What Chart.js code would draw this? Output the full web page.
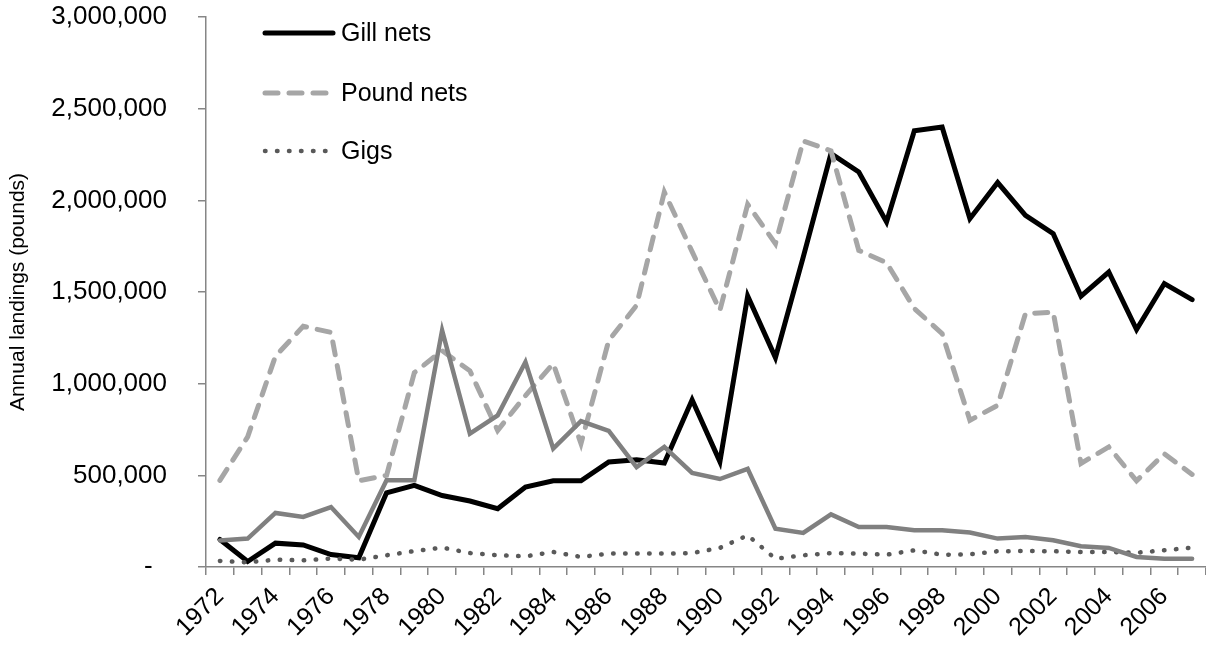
<!DOCTYPE html>
<html>
<head>
<meta charset="utf-8">
<script src="https://cdn.jsdelivr.net/npm/chart.js@4.4.0/dist/chart.umd.min.js"></script>
<style>
    html, body { margin: 0; padding: 0; background: #fff; overflow: hidden; }
    #wrap { width: 1206px; height: 649px; position: relative; }
    canvas { display: block; }
</style>
</head>
<body>
<div id="wrap"><canvas id="landings-chart" width="1206" height="649"></canvas></div>
<script>
'use strict';

const years = [
    '1972', '1973', '1974', '1975', '1976', '1977', '1978', '1979', '1980',
    '1981', '1982', '1983', '1984', '1985', '1986', '1987', '1988', '1989',
    '1990', '1991', '1992', '1993', '1994', '1995', '1996', '1997', '1998',
    '1999', '2000', '2001', '2002', '2003', '2004', '2005', '2006', '2007'
];

const gillNets = [
    150000, 30000, 130000, 120000, 68000, 50000, 405000, 445000, 390000,
    360000, 318000, 436000, 470000, 470000, 573000, 585000, 567000, 912000,
    575000, 1478000, 1142000, 1690000, 2255000, 2155000, 1882000, 2380000, 2400000,
    1900000, 2097000, 1918000, 1818000, 1477000, 1609000, 1295000, 1546000, 1458000
];

const poundNets = [
    473000, 710000, 1150000, 1313000, 1280000, 470000, 500000, 1060000, 1180000,
    1070000, 745000, 935000, 1110000, 673000, 1236000, 1427000, 2045000, 1720000,
    1400000, 1978000, 1764000, 2324000, 2270000, 1727000, 1660000, 1410000, 1273000,
    800000, 882000, 1382000, 1390000, 565000, 655000, 470000, 618000, 505000
];

const gigs = [
    33000, 25000, 40000, 36000, 46000, 40000, 64000, 87000, 106000,
    76000, 64000, 58000, 82000, 55000, 73000, 73000, 73000, 76000,
    104000, 173000, 45000, 64000, 76000, 73000, 67000, 91000, 67000,
    69000, 86000, 87000, 86000, 82000, 82000, 78000, 91000, 106000
];

// fourth series, its legend entry is not visible in the source
const otherGear = [
    145000, 155000, 295000, 273000, 327000, 164000, 473000, 473000, 1291000,
    727000, 827000, 1118000, 646000, 796000, 742000, 545000, 655000, 513000,
    480000, 535000, 209000, 186000, 287000, 218000, 218000, 200000, 200000,
    188000, 155000, 164000, 146000, 113000, 104000, 55000, 45000, 45000
];

const yTicks = [0, 500000, 1000000, 1500000, 2000000, 2500000, 3000000];

const FONT = '"Liberation Sans", Arial, sans-serif';
const AXIS_GRAY = '#868686';

// legend drawn inside the plot, top-left, one row per series
const insideLegend = {
    id: 'insideLegend',
    afterDraw(chart) {
        const ctx = chart.ctx;
        const rows = [0, 1, 2];
        const ys = [33, 93, 151];
        ctx.save();
        rows.forEach((dsIndex, i) => {
            const ds = chart.data.datasets[dsIndex];
            const y = ys[i];
            ctx.beginPath();
            ctx.strokeStyle = ds.borderColor;
            ctx.lineWidth = ds.borderWidth;
            ctx.lineCap = ds.borderCapStyle || 'butt';
            ctx.setLineDash(ds.borderDash || []);
            ctx.moveTo(265, y);
            ctx.lineTo(ds.borderDash ? 329 : 333, y);
            ctx.stroke();
            ctx.setLineDash([]);
            ctx.fillStyle = '#000';
            ctx.font = '25px ' + FONT;
            ctx.textBaseline = 'middle';
            ctx.textAlign = 'left';
            ctx.fillText(ds.label, 341, y + 1);
        });
        ctx.restore();
    }
};

const ctx = document.getElementById('landings-chart').getContext('2d');

new Chart(ctx, {
    type: 'line',
    data: {
        labels: years,
        datasets: [
            {
                label: 'Gill nets',
                data: gillNets,
                borderColor: '#000000',
                borderWidth: 5,
                borderCapStyle: 'round',
                borderJoinStyle: 'miter',
                order: 4
            },
            {
                label: 'Pound nets',
                data: poundNets,
                borderColor: '#a6a6a6',
                borderWidth: 5,
                borderDash: [13, 11],
                borderCapStyle: 'round',
                order: 3
            },
            {
                label: 'Gigs',
                data: gigs,
                borderColor: '#595959',
                borderWidth: 4.5,
                borderDash: [0.5, 11.5],
                borderCapStyle: 'round',
                order: 2
            },
            {
                label: 'Other',
                data: otherGear,
                borderColor: '#808080',
                borderWidth: 4.5,
                borderCapStyle: 'round',
                borderJoinStyle: 'miter',
                order: 1
            }
        ]
    },
    options: {
        responsive: false,
        animation: false,
        devicePixelRatio: 1,
        layout: { padding: { top: 17, left: 0, right: 0, bottom: 0 } },
        elements: {
            point: { radius: 0, hoverRadius: 0 },
            line: { tension: 0, fill: false }
        },
        plugins: {
            legend: { display: false },
            tooltip: { enabled: false }
        },
        scales: {
            x: {
                type: 'category',
                offset: true,
                afterFit(scale) {
                    scale.height = 82;
                    // plot runs to the right edge, as in the source
                    scale.paddingLeft = 0;
                    scale.paddingRight = 0;
                },
                border: { display: true, color: AXIS_GRAY, width: 1.5 },
                grid: {
                    offset: true,
                    drawOnChartArea: false,
                    drawTicks: true,
                    tickLength: 8,
                    color: AXIS_GRAY,
                    lineWidth: 1.5
                },
                ticks: {
                    autoSkip: false,
                    maxRotation: 45,
                    minRotation: 45,
                    padding: 7,
                    color: '#000',
                    font: { family: FONT, size: 25 },
                    callback: function(value, index) {
                        return index % 2 === 0 ? years[index] : '';
                    }
                }
            },
            y: {
                min: 0,
                max: 3000000,
                afterFit(scale) {
                    scale.width = 206;
                    // the big label gap must not push the plot down
                    scale.paddingTop = 0;
                    scale.paddingBottom = 0;
                },
                afterBuildTicks(scale) {
                    scale.ticks = yTicks.map(v => ({ value: v }));
                },
                border: { display: true, color: AXIS_GRAY, width: 1.5 },
                grid: {
                    drawOnChartArea: false,
                    drawTicks: true,
                    tickLength: 8,
                    color: AXIS_GRAY,
                    lineWidth: 1.5
                },
                ticks: {
                    padding: 31,
                    color: '#000',
                    font: { family: FONT, size: 26 },
                    callback: function(value) {
                        return value === 0 ? '-  ' : value.toLocaleString('en-US');
                    }
                },
                title: {
                    display: true,
                    text: 'Annual landings (pounds)',
                    color: '#000',
                    font: { family: FONT, size: 21 },
                    padding: { top: 6, bottom: 0 }
                }
            }
        }
    },
    plugins: [insideLegend]
});
</script>
</body>
</html>
